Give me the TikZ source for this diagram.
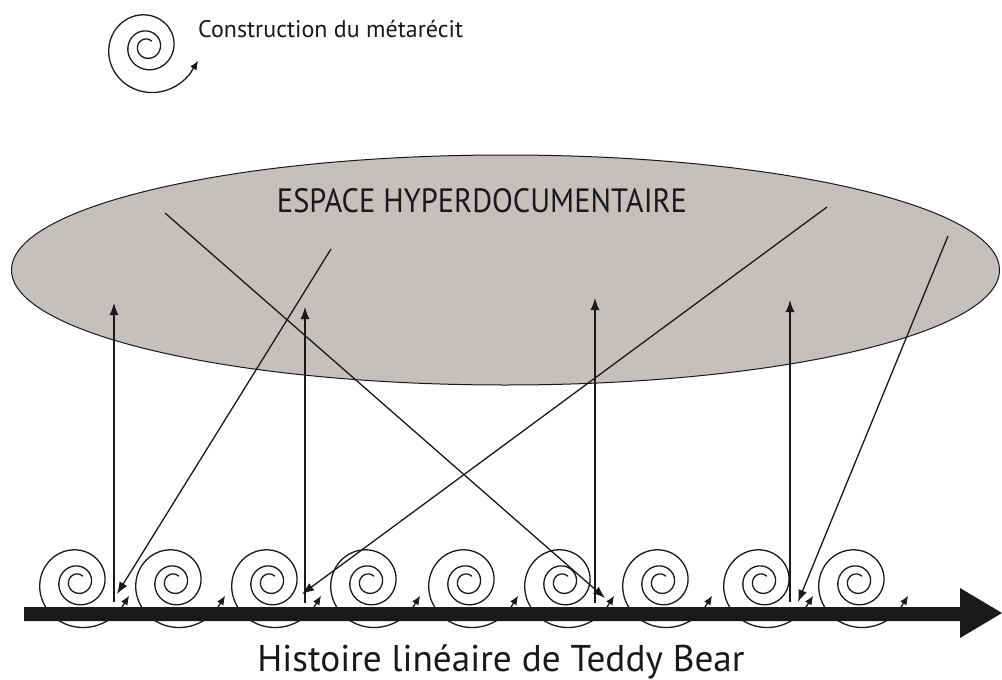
\documentclass[tikz,border=0pt]{standalone}
\usepackage{fontspec}
\setmainfont{PT Sans}
\usetikzlibrary{arrows.meta}
\definecolor{ellgray}{RGB}{197,191,190}
\definecolor{ink}{RGB}{25,25,25}
\tikzset{
  linkarrow/.style={line width=1.3pt, draw=ink, -{Latex[length=12pt,width=9pt]}},
  spiralline/.style={line width=1.3pt, draw=ink, -{Latex[length=9pt,width=7.5pt]}},
  label text/.style={inner sep=0pt, text=ink},
  spir/.pic={
    \draw[spiralline] plot[domain=-310:688, samples=240]
      ({32*2^((\x-450)/360)*cos(\x)}, {-32*2^((\x-450)/360)*sin(\x)})
      -- ({53*cos(-15)}, {-53*sin(-15)});
  }
}
\begin{document}
\begin{tikzpicture}[x=1pt,y=-1pt]
\useasboundingbox (0,0) rectangle (1002,680);
\fill[white] (0,0) rectangle (1002,680);

% legend
\pic at (147,47) {spir};
\node[label text, anchor=base west] (legend) at (198,37)
  {\resizebox{265pt}{!}{Construction du métarécit}};

% hyperdocument space
\draw[line width=1pt, draw=ink, fill=ellgray] (505.5,270) ellipse [x radius=494, y radius=115];
\node[label text, anchor=base] (title) at (482,212)
  {\resizebox{410pt}{24pt}{ESPACE HYPERDOCUMENTAIRE}};

% spirals on the story line
\foreach \cx [count=\i] in {78,174,270,369,467,563,661,762,857}{
  \pic at (\cx,582) {spir};
}

% timeline bar
\fill[ink] (24,607) -- (960,607) -- (960,588) -- (1002,613) -- (960,638)
  -- (960,621) -- (24,621) -- cycle;

% coordinates of the links
\coordinate (v1b) at (114,602); \coordinate (v1t) at (114,303);
\coordinate (v2b) at (305,603); \coordinate (v2t) at (305,307);
\coordinate (v3b) at (595,603); \coordinate (v3t) at (595,298);
\coordinate (v4b) at (790,602); \coordinate (v4t) at (790,300);
\coordinate (d1s) at (331,249); \coordinate (d1e) at (117,594);
\coordinate (d2s) at (165,213); \coordinate (d2e) at (605,598);
\coordinate (d3s) at (827,207); \coordinate (d3e) at (302,594);
\coordinate (d4s) at (948,236); \coordinate (d4e) at (798,602);

\draw[linkarrow] (v1b) -- (v1t);
\draw[linkarrow] (v2b) -- (v2t);
\draw[linkarrow] (v3b) -- (v3t);
\draw[linkarrow] (v4b) -- (v4t);
\draw[linkarrow] (d1s) -- (d1e);
\draw[linkarrow] (d2s) -- (d2e);
\draw[linkarrow] (d3s) -- (d3e);
\draw[linkarrow] (d4s) -- (d4e);

\node[label text, anchor=base] (story) at (501,671)
  {\resizebox{487pt}{!}{Histoire linéaire de Teddy Bear}};
\end{tikzpicture}
\end{document}
